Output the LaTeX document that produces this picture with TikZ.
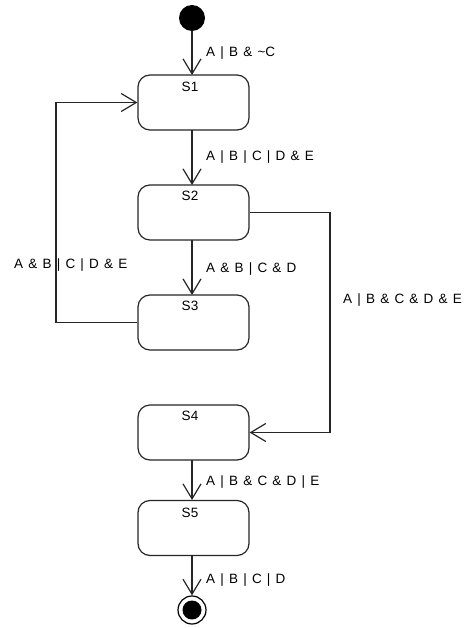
\documentclass[tikz,border=0pt]{standalone}
\usepackage{fontspec}
\setmainfont{Liberation Sans}
\usetikzlibrary{arrows.meta}
\newcommand\mylabelfont{\fontsize{13.5}{15}\selectfont\spaceskip=5.2pt\relax}
\begin{document}
\begin{tikzpicture}[x=1pt,y=-1pt,
  every node/.style={font=\mylabelfont, inner sep=0pt},
  state/.style={draw=black!85, line width=1.2pt, rounded corners=12pt, minimum width=111pt, minimum height=55pt},
  slabel/.style={anchor=center},
  elabel/.style={anchor=west},
  trans/.style={draw=black!85, line width=1.2pt, -{Straight Barb[length=15pt,width=18pt,line width=1.2pt]}},
  conn/.style={draw=black!85, line width=1.2pt}]
\useasboundingbox (0,0) rectangle (466,628);
\fill[white] (0,0) rectangle (466,628);

\node[circle, fill=black, minimum size=26pt] (init) at (192,18) {};
\node[state] (s1) at (193.5,102.5) {};
\node[state] (s2) at (193.5,212.5) {};
\node[state] (s3) at (193.5,322.5) {};
\node[state] (s4) at (193.5,432.5) {};
\node[state] (s5) at (193.5,528) {};
\node[circle, draw=black, line width=1.2pt, minimum size=28pt] (fin) at (192,610) {};
\node[circle, fill=black, minimum size=19pt] (fini) at (192,610) {};

\node[slabel] (l1) at (190,87) {S1};
\node[slabel] (l2) at (190,196) {S2};
\node[slabel] (l3) at (190,306) {S3};
\node[slabel] (l4) at (190,416) {S4};
\node[slabel] (l5) at (190,513) {S5};

\coordinate (a1) at (192,75);
\coordinate (b1) at (192,130);
\coordinate (a2) at (192,185);
\coordinate (b2) at (192,240);
\coordinate (a3) at (192,295);
\coordinate (b4) at (192,460);
\coordinate (a5) at (192,500);
\coordinate (b5) at (192,556);
\coordinate (c1) at (56,102.5);
\coordinate (c3) at (56,322.5);
\coordinate (c2) at (330,212.5);
\coordinate (c4) at (330,432.5);

\draw[trans] (init) -- (a1);
\draw[trans] (b1) -- (a2);
\draw[trans] (b2) -- (a3);
\draw[trans] (s3.west) -- (c3) -- (c1) -- (s1.west);
\draw[trans] (s2.east) -- (c2) -- (c4) -- (s4.east);
\draw[trans] (b4) -- (a5);
\draw[trans] (b5) -- (fin);

\node[elabel] (t0) at (206,53) {A | B \& \textasciitilde C};
\node[elabel] (t1) at (206,157) {A | B | C | D \& E};
\node[elabel] (t2) at (206,269) {A \& B | C \& D};
\node[elabel] (t3) at (14,265) {A \& B | C | D \& E};
\node[elabel] (t4) at (343,300) {A | B \& C \& D \& E};
\node[elabel] (t5) at (206,482) {A | B \& C \& D | E};
\node[elabel] (t6) at (206,580) {A | B | C | D};
\end{tikzpicture}
\end{document}
